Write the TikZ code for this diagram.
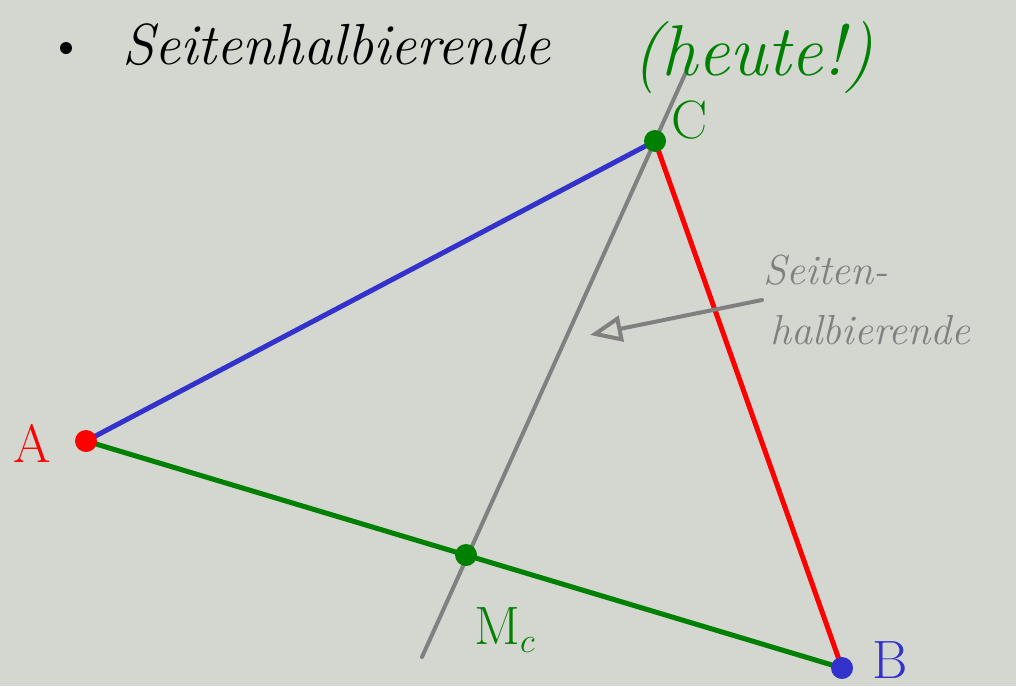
\documentclass[tikz,border=0pt]{standalone}
\usetikzlibrary{arrows.meta}
\definecolor{bg}{RGB}{212,215,208}
\definecolor{pblue}{RGB}{51,51,204}
\definecolor{pred}{RGB}{255,0,0}
\definecolor{pgreen}{RGB}{0,128,0}
\definecolor{pgray}{RGB}{128,128,128}
\tikzset{
  side/.style={line width=2.5pt, line cap=round},
  pt/.style={circle, inner sep=0pt, minimum size=11pt},
  hand/.style={font=\itshape\fontsize{29}{34}\selectfont, inner sep=0pt},
  lbl/.style={font=\fontsize{27}{30}\selectfont, inner sep=0pt},
  note/.style={font=\itshape\fontsize{21}{24}\selectfont, inner sep=0pt, text=pgray, align=left}
}
\begin{document}
\begin{tikzpicture}[x=0.5pt,y=-0.5pt]
\fill[bg] (0,0) rectangle (1016,686);
\useasboundingbox (0,0) rectangle (1016,686);
% points
\coordinate (A) at (86,441);
\coordinate (B) at (842,668);
\coordinate (C) at (655,141);
\coordinate (M) at (466,555);
\coordinate (G1) at (686,72);
\coordinate (G2) at (422,657);
% median line
\draw[pgray, line width=2pt, line cap=round] (G1) -- (G2);
% sides
\draw[side, pblue] (A) -- (C);
\draw[side, pred] (C) -- (B);
\draw[side, pgreen] (A) -- (B);
% dots
\node[pt, fill=pred] (dA) at (A) {};
\node[pt, fill=pblue] (dB) at (B) {};
\node[pt, fill=pgreen] (dC) at (C) {};
\node[pt, fill=pgreen] (dM) at (M) {};
% labels
\node[lbl, text=pred] (lA) at (32,443) {A};
\node[lbl, text=pblue] (lB) at (890,660) {B};
\node[lbl, text=pgreen] (lC) at (690,120) {C};
\node[lbl, text=pgreen] (lM) at (505,630) {M$_c$};
% title
\node[circle, fill=black, inner sep=0pt, minimum size=6pt] (bul) at (66,48) {};
\node[hand, anchor=west] (title) at (122,45) {Seitenhalbierende};
\node[hand, anchor=west, text=pgreen, font=\itshape\fontsize{36}{40}\selectfont] (heute) at (632,58) {(heute!)};
% annotation
\node[note, anchor=west] (s1) at (763,270) {Seiten-};
\node[note, anchor=west] (s2) at (770,330) {halbierende};
\coordinate (arrS) at (762,300);
\coordinate (arrE) at (590,335);
\draw[pgray, line width=2pt, line cap=round, -{Triangle[open, length=16pt, width=13pt, line width=2pt]}] (arrS) -- (arrE);
\end{tikzpicture}
\end{document}
